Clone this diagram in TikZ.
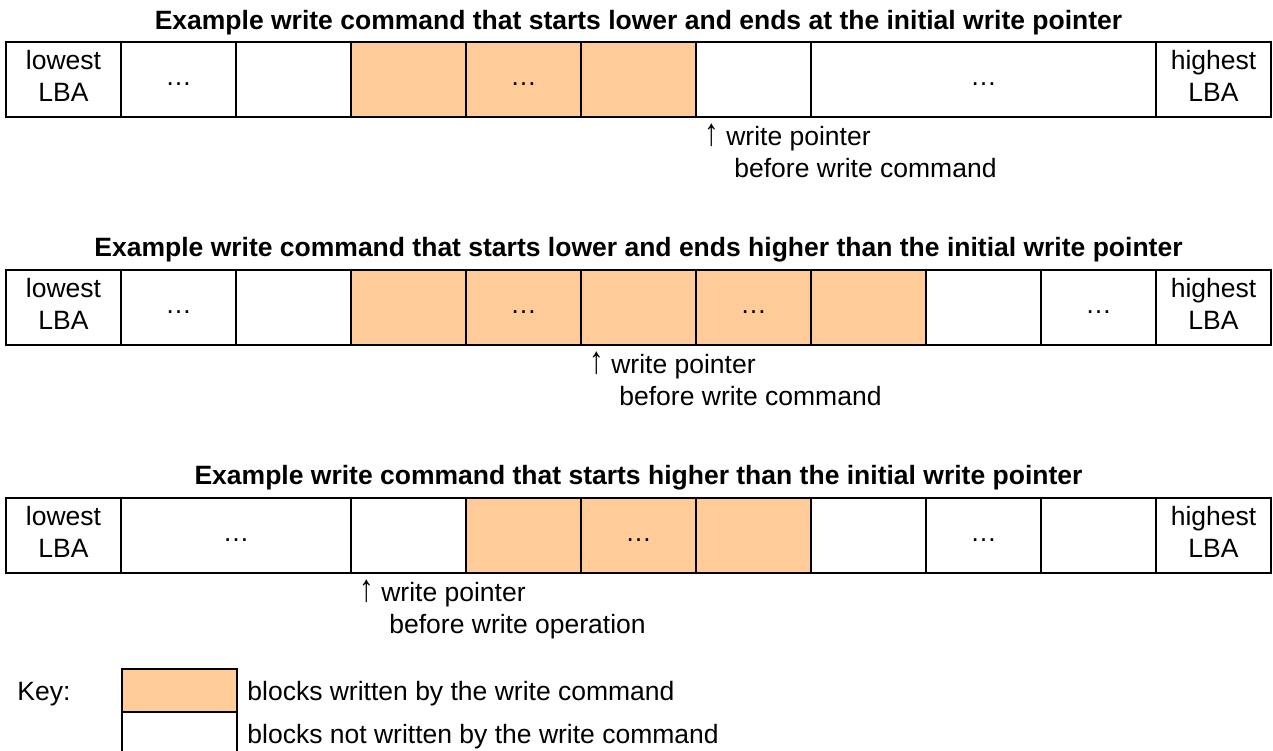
\documentclass[tikz,border=0pt]{standalone}
\usepackage{fontspec}
\setmainfont{Liberation Sans}
\usetikzlibrary{positioning}

\definecolor{wrfill}{HTML}{FFCC99}
\newcommand\lba[1]{\strut #1\\\strut LBA}
\newcommand\skipd{\strut…}
\newcommand\uparr{\scalebox{1.1}[1.45]{↑}}

\begin{document}
\begin{tikzpicture}[
  x=0.5pt, y=-0.5pt,   % one unit per pixel of the sheet, y runs downwards
  font=\fontsize{13.25}{16}\selectfont,
  blk/.style={draw,line width=1pt,minimum width=57.5pt,minimum height=37.5pt,
              inner sep=0pt,outer sep=0pt,align=center,anchor=north west},
  wr/.style={blk,fill=wrfill},
  blk2/.style={blk,minimum width=115pt},
  blk3/.style={blk,minimum width=172.5pt},
  caption/.style={font=\fontsize{13.25}{16}\selectfont\bfseries,
                  anchor=base,inner sep=0pt},
  wptr/.style={align=left,anchor=north west,inner sep=0pt},
  keybox/.style={draw,line width=1pt,minimum width=57.5pt,minimum height=21.5pt,
                 inner sep=0pt,outer sep=0pt},
  keytxt/.style={anchor=west,inner sep=0pt,text height=9.5pt,text depth=0pt},
]
\useasboundingbox (0,0) rectangle (1273,750);
\clip (0,0) rectangle (1273,750);

% case 1: command ends at the write pointer
\node[caption] (ta) at (638.5,29.5)
     {Example write command that starts lower and ends at the initial write pointer};
\node[blk] (a1) at (6,42) {\lba{lowest}};
\node[blk,right=0pt of a1] (a2) {\skipd};
\node[blk,right=0pt of a2] (a3) {};
\node[wr,right=0pt of a3]  (a4) {};
\node[wr,right=0pt of a4]  (a5) {\skipd};
\node[wr,right=0pt of a5]  (a6) {};
\node[blk,right=0pt of a6] (a7) {};
\node[blk3,right=0pt of a7] (a8) {\skipd};
\node[blk,right=0pt of a8] (a9) {\lba{highest}};
\node[wptr] (pa) at ([xshift=4pt,yshift=-2.8pt]a7.south west)
     {\strut\uparr\ write pointer\\\hspace*{15pt}before write command};

% case 2: command runs past the write pointer
\node[caption] (tb) at (638.5,256.5)
     {Example write command that starts lower and ends higher than the initial write pointer};
\node[blk] (b1) at (6,270) {\lba{lowest}};
\node[blk,right=0pt of b1] (b2) {\skipd};
\node[blk,right=0pt of b2] (b3) {};
\node[wr,right=0pt of b3]  (b4) {};
\node[wr,right=0pt of b4]  (b5) {\skipd};
\node[wr,right=0pt of b5]  (b6) {};
\node[wr,right=0pt of b6]  (b7) {\skipd};
\node[wr,right=0pt of b7]  (b8) {};
\node[blk,right=0pt of b8] (b9) {};
\node[blk,right=0pt of b9] (b10) {\skipd};
\node[blk,right=0pt of b10] (b11) {\lba{highest}};
\node[wptr] (pb) at ([xshift=4pt,yshift=-2.8pt]b6.south west)
     {\strut\uparr\ write pointer\\\hspace*{15pt}before write command};

% case 3: command starts above the write pointer
\node[caption] (tc) at (638.5,484.5)
     {Example write command that starts higher than the initial write pointer};
\node[blk] (c1) at (6,498) {\lba{lowest}};
\node[blk2,right=0pt of c1] (c2) {\skipd};
\node[blk,right=0pt of c2] (c3) {};
\node[wr,right=0pt of c3]  (c4) {};
\node[wr,right=0pt of c4]  (c5) {\skipd};
\node[wr,right=0pt of c5]  (c6) {};
\node[blk,right=0pt of c6] (c7) {};
\node[blk,right=0pt of c7] (c8) {\skipd};
\node[blk,right=0pt of c8] (c9) {};
\node[blk,right=0pt of c9] (c10) {\lba{highest}};
\node[wptr] (pc) at ([xshift=4pt,yshift=-2.8pt]c3.south west)
     {\strut\uparr\ write pointer\\\hspace*{15pt}before write operation};

% key
\node[keybox,fill=wrfill,anchor=north west] (kw) at (122,669) {};
\node[keybox,below=0pt of kw] (kn) {};
\node[keytxt] (key) at (17,0 |- kw.west) {Key:};
\node[keytxt,right=5pt of kw] (kwl) {blocks written by the write command};
\node[keytxt,right=5pt of kn] (knl) {blocks not written by the write command};

\end{tikzpicture}
\end{document}
